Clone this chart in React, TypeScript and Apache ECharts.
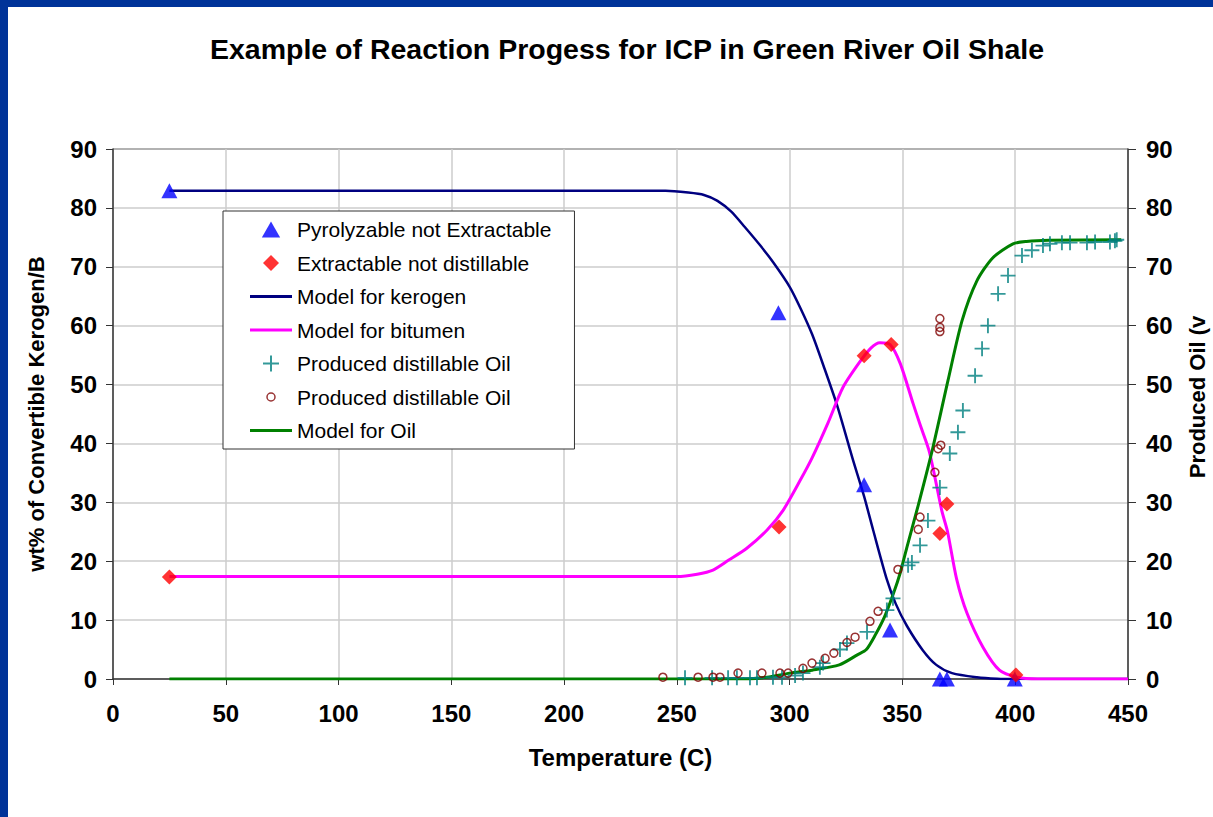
import React, { useEffect, useRef } from 'react';
import * as echarts from 'echarts';

const FONT = '"Liberation Sans", Arial, Helvetica, sans-serif';

const xTicks = { min: 0, max: 450, interval: 50 };
const yTicks = { min: 0, max: 90, interval: 10 };

const titleText = 'Example of Reaction Progess for ICP in Green River Oil Shale';
const xName = 'Temperature (C)';
const yLeftName = 'wt% of Convertible Kerogen/B';
const yRightName = 'Produced Oil (v';

const pyrolyzable = [[25, 82.9], [295, 62.2], [333, 33.0], [344.5, 8.3], [366.6, 0], [369.7, 0], [399.8, 0]];
const extractable = [[25, 17.3], [295.3, 25.8], [333, 54.9], [345, 56.8], [366.6, 24.7], [369.7, 29.7], [400.3, 0.7]];

const kerogenModel = [
  [25, 82.9], [100, 82.9], [200, 82.9], [245, 82.9], [255, 82.6], [262, 82.2], [268, 81.2], [274, 79.4],
  [280, 76.8], [287, 73.6], [293, 70.6], [300, 66.6], [305, 62.8], [310, 58.5], [315, 53.2], [321, 46.5],
  [328, 37.3], [333, 31.0], [337, 25.3], [343, 17.0], [347, 12.8], [352, 9.0], [359, 4.9], [365, 2.4],
  [372, 1.0], [383, 0.3], [392, 0.05], [400, 0], [450, 0],
];

const bitumenModel = [
  [25, 17.4], [100, 17.4], [200, 17.4], [250, 17.4], [259, 17.8], [266, 18.5], [273, 20.2], [281, 22.2],
  [290, 25.3], [297, 28.6], [304.6, 33.7], [310, 37.6], [317, 43.5], [323.6, 49.5], [331, 53.8], [336, 56.2],
  [340, 57.1], [344.5, 56.8], [349, 53.6], [354.7, 46.8], [358, 43.0], [362, 38.5], [367.5, 28.5], [370, 25.0],
  [374, 17.0], [378.6, 11.2], [385.7, 5.4], [393, 1.5], [400.8, 0.3], [410, 0], [450, 0],
];

const oilModel = [
  [25, 0], [100, 0], [200, 0], [280, 0], [290, 0.3], [300, 1.0], [310, 1.5], [322, 2.4], [330, 4.1],
  [334, 5.0], [338, 7.5], [342, 10.5], [346, 14.5], [349, 18.0], [352, 22.4], [357, 29.5], [363.5, 39.3],
  [370.2, 50.7], [376.4, 60.8], [383, 67.6], [390, 71.5], [399, 73.9], [405, 74.3], [415, 74.5], [447, 74.6],
];

const producedCross = [
  [253.6, 0.2], [265.6, 0.2], [272.7, 0.2], [276.6, 0.2], [282.4, 0.2], [285.5, 0.2], [292.6, 0.3], [296.6, 0.3],
  [302.4, 0.6], [305.9, 1.0], [313.4, 2.0], [314.8, 2.7], [322.3, 5.0], [325.4, 6.1], [334.3, 8.0], [343.1, 11.7],
  [345.8, 13.7], [352.5, 19.3], [354.2, 19.8], [357.8, 22.7], [361.3, 26.9], [366.6, 32.5], [371, 38.3],
  [374.6, 41.9], [376.8, 45.6], [382.2, 51.5], [385.3, 56.1], [387.9, 60.0], [392.4, 65.4], [396.8, 68.5],
  [403, 71.9], [407.4, 72.8], [412.3, 73.6], [415.4, 73.9], [420.7, 74.1], [424.3, 74.1], [431.8, 74.1],
  [435.4, 74.2], [442, 74.2], [444.2, 74.4], [445, 74.6],
];

const producedCircle = [
  [243.8, 0.3], [259.4, 0.3], [266, 0.3], [269.1, 0.3], [277.1, 1.0], [287.7, 1.0], [295.7, 1.0], [299.3, 1.0],
  [305.9, 1.8], [309.9, 2.7], [315.7, 3.5], [319.6, 4.4], [325.4, 6.2], [329, 7.1], [335.6, 9.8], [339.2, 11.5],
  [348, 18.6], [357, 25.4], [357.8, 27.5], [364.4, 35.1], [365.8, 39.1], [367, 39.7], [366.6, 59.0],
  [366.6, 59.7], [366.6, 61.2],
];

const names = {
  pyro: 'Pyrolyzable not Extractable',
  extr: 'Extractable not distillable',
  ker: 'Model for kerogen',
  bit: 'Model for bitumen',
  cross: 'Produced distillable Oil',
  circle: 'Produced distillable Oil ',
  oil: 'Model for Oil',
};

const crossPath = 'path://M7,0 H9 V7 H16 V9 H9 V16 H7 V9 H0 V7 H7 Z';
const circleIcon = 'path://M0,0 M16,16 M12,8 A4,4 0 1,1 4,8 A4,4 0 1,1 12,8 Z';
const triangleIcon = 'path://M8,0 L16,14 L0,14 Z';
const diamondIcon = 'path://M7.5,0 L15,7.5 L7.5,15 L0,7.5 Z';
const lineIcon = 'path://M0,0 H42 V3 H0 Z';

export default function App() {
  const ref = useRef<HTMLDivElement>(null);

  useEffect(() => {
    document.body.style.margin = '0';
    document.body.style.overflow = 'hidden';
    const chart = echarts.init(ref.current as HTMLDivElement, null, { renderer: 'svg' });
    const boldLabel = { fontSize: 24, fontWeight: 'bold' as const, color: '#000', fontFamily: FONT };
    const splitColors = ['#cccccc', '#cccccc', '#cccccc', '#cccccc', '#cccccc', '#cccccc', '#cccccc', '#cccccc', '#cccccc', '#999999'];

    const option: any = {
      animation: false,
      backgroundColor: '#ffffff',
      textStyle: { fontFamily: FONT },
      title: {
        text: titleText,
        left: 622,
        top: 29,
        textAlign: 'center',
        textStyle: { fontSize: 28.5, fontWeight: 'bold', color: '#000', fontFamily: FONT },
      },
      grid: { left: 113, right: 85, top: 149, bottom: 138, containLabel: false },
      legend: {
        orient: 'vertical',
        left: 223,
        top: 211,
        backgroundColor: '#ffffff',
        borderColor: '#333333',
        borderWidth: 1,
        padding: [8, 23, 8, 27],
        itemWidth: 42,
        itemHeight: 16,
        itemGap: 12.5,
        symbolKeepAspect: true,
        z: 10,
        textStyle: { fontSize: 21, color: '#000', fontFamily: FONT },
        data: [
          { name: names.pyro, icon: triangleIcon },
          { name: names.extr, icon: diamondIcon },
          { name: names.ker, icon: lineIcon, itemStyle: { color: '#000080' } },
          { name: names.bit, icon: lineIcon, itemStyle: { color: '#FF00FF' } },
          { name: names.cross, icon: crossPath },
          { name: names.circle, icon: circleIcon, itemStyle: { color: 'transparent', borderColor: '#800000', borderWidth: 1.5 } },
          { name: names.oil, icon: lineIcon, itemStyle: { color: '#008000' } },
        ],
      },
      xAxis: {
        type: 'value',
        min: xTicks.min,
        max: xTicks.max,
        interval: xTicks.interval,
        name: xName,
        nameLocation: 'middle',
        nameGap: 66,
        nameTextStyle: { fontSize: 24, fontWeight: 'bold', color: '#000', fontFamily: FONT },
        axisLine: { show: true, lineStyle: { color: '#333', width: 1.5 } },
        axisTick: { show: true, length: 6, lineStyle: { color: '#333', width: 1 } },
        axisLabel: { ...boldLabel, margin: 22 },
        splitLine: { show: true, lineStyle: { color: '#cccccc', width: 1.5 } },
      },
      yAxis: [
        {
          type: 'value',
          position: 'left',
          min: yTicks.min,
          max: yTicks.max,
          interval: yTicks.interval,
          name: yLeftName,
          nameLocation: 'middle',
          nameRotate: 90,
          nameGap: 66,
          nameTextStyle: { fontSize: 22, fontWeight: 'bold', color: '#000', fontFamily: FONT },
          axisLine: { show: true, lineStyle: { color: '#333', width: 1.5 } },
          axisTick: { show: true, length: 7, lineStyle: { color: '#333', width: 1 } },
          axisLabel: { ...boldLabel, margin: 16 },
          splitLine: { show: true, lineStyle: { color: splitColors, width: 1.5 } },
        },
        {
          type: 'value',
          position: 'right',
          min: yTicks.min,
          max: yTicks.max,
          interval: yTicks.interval,
          axisLine: { show: true, lineStyle: { color: '#333', width: 1.5 } },
          axisTick: { show: true, length: 8, lineStyle: { color: '#333', width: 1 } },
          axisLabel: { ...boldLabel, margin: 18 },
          splitLine: { show: false },
        },
      ],
      graphic: [
        { type: 'rect', z: 100, shape: { x: 0, y: 0, width: 1213, height: 7 }, style: { fill: '#003399' } },
        { type: 'rect', z: 100, shape: { x: 0, y: 0, width: 8, height: 817 }, style: { fill: '#003399' } },
        {
          type: 'text',
          z: 50,
          x: 1197,
          y: 397,
          rotation: Math.PI / 2,
          style: {
            text: yRightName,
            fill: '#000',
            font: `bold 22px ${FONT}`,
            textAlign: 'center',
            textVerticalAlign: 'middle',
            align: 'center',
            verticalAlign: 'middle',
          },
        },
      ],
      series: [
        {
          name: names.pyro,
          type: 'scatter',
          data: pyrolyzable,
          symbol: 'triangle',
          symbolSize: [16, 15],
          itemStyle: { color: '#0000FF' },
          z: 3,
        },
        {
          name: names.extr,
          type: 'scatter',
          data: extractable,
          symbol: 'diamond',
          symbolSize: 15,
          itemStyle: { color: '#FF0000' },
          z: 3,
        },
        {
          name: names.ker,
          type: 'line',
          data: kerogenModel,
          symbol: 'none',
          smooth: 0.25,
          color: '#000080',
          lineStyle: { color: '#000080', width: 2.5 },
          z: 2,
        },
        {
          name: names.bit,
          type: 'line',
          data: bitumenModel,
          symbol: 'none',
          smooth: 0.25,
          color: '#FF00FF',
          lineStyle: { color: '#FF00FF', width: 3 },
          z: 2,
        },
        {
          name: names.cross,
          type: 'scatter',
          yAxisIndex: 1,
          data: producedCross,
          symbol: crossPath,
          symbolSize: 15,
          itemStyle: { color: '#008080' },
          z: 2,
        },
        {
          name: names.circle,
          type: 'scatter',
          yAxisIndex: 1,
          data: producedCircle,
          symbol: 'circle',
          symbolSize: 8,
          itemStyle: { color: 'transparent', borderColor: '#800000', borderWidth: 1.5 },
          z: 2,
        },
        {
          name: names.oil,
          type: 'line',
          yAxisIndex: 1,
          data: oilModel,
          symbol: 'none',
          smooth: 0.25,
          color: '#008000',
          lineStyle: { color: '#008000', width: 3 },
          z: 2,
        },
      ],
    };

    chart.setOption(option);
    return () => chart.dispose();
  }, []);

  return (
    <div
      ref={ref}
      style={{ position: 'fixed', left: 0, top: 0, width: 1213, height: 817, background: '#fff' }}
    />
  );
}
